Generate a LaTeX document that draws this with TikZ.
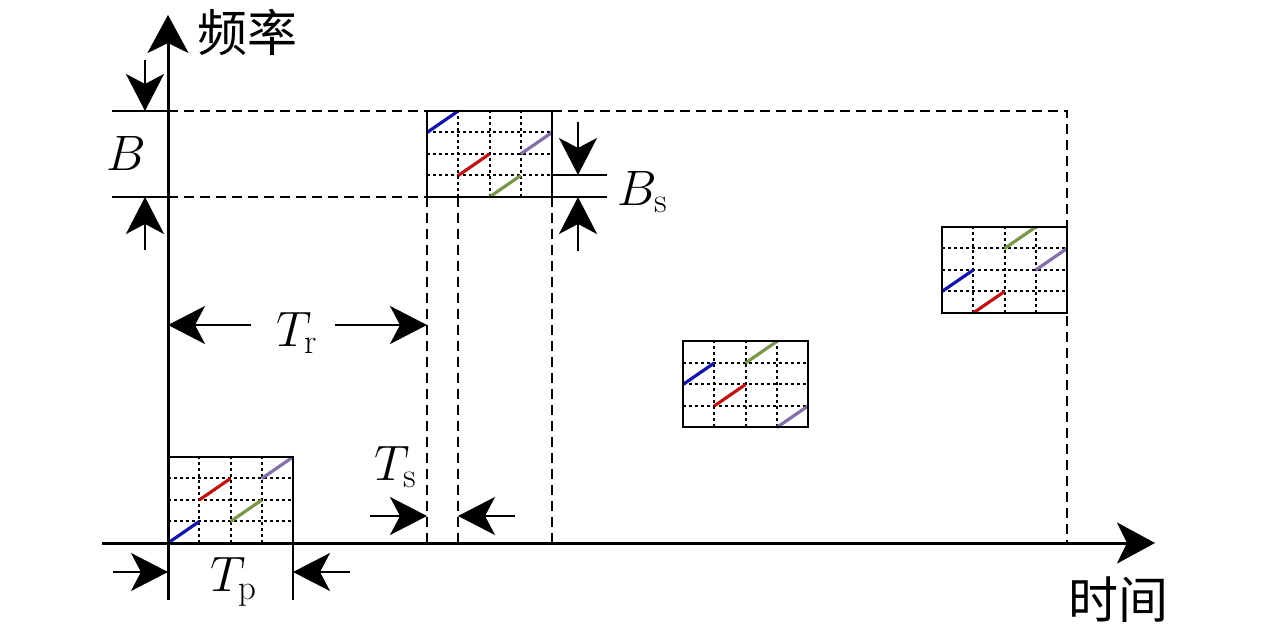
\documentclass[tikz,border=0pt]{standalone}
\usepackage{amsmath}
\usepackage{fontspec}
\newfontfamily\cjk{Noto Sans CJK SC}
\usetikzlibrary{arrows.meta,calc}

\definecolor{tfblue}{RGB}{20,20,170}
\definecolor{tfred}{RGB}{190,20,20}
\definecolor{tfgreen}{RGB}{122,150,72}
\definecolor{tfpurple}{RGB}{132,112,168}

\tikzset{
  axis/.style={line width=1.5pt,-{Stealth[length=19pt,width=20.5pt,inset=5pt]}},
  dim/.style={line width=1pt,-{Stealth[length=18.5pt,width=19pt,inset=5pt]}},
  tick/.style={line width=1pt},
  guide/.style={line width=0.8pt,dash pattern=on 5pt off 3pt},
  tfbox/.style={draw,line width=1pt,minimum width=62.5pt,minimum height=43pt,inner sep=0pt,outer sep=0pt},
  gridline/.style={line width=1pt,dash pattern=on 1.5pt off 1.5pt},
  chirp/.style={line width=1.6pt},
  lab/.style={font=\fontsize{25}{30}\selectfont,inner sep=0pt},
}

% grid of one burst: box name, then the row of each colour
\newcommand{\tfgrid}[5]{%
  \foreach \k in {1,2,3} {
    \draw[gridline] ($(#1.south west)!\k/4!(#1.south east)$) -- ($(#1.north west)!\k/4!(#1.north east)$);
    \draw[gridline] ($(#1.south west)!\k/4!(#1.north west)$) -- ($(#1.south east)!\k/4!(#1.north east)$);
  }
  \foreach \c/\r/\col in {0/#2/tfblue,1/#3/tfred,2/#4/tfgreen,3/#5/tfpurple}
    \draw[chirp,\col] ($(#1.south west)+(\c*31.25,-\r*21.5)$) -- ++(31.25,-21.5);
}

\begin{document}
\begin{tikzpicture}[x=0.5pt,y=-0.5pt]
\useasboundingbox (0,0) rectangle (1280,630);

% bursts
\node (b1) at (230.5,500) [tfbox] {};
\node (b2) at (489.5,154) [tfbox] {};
\node (b3) at (745.5,384.5) [tfbox] {};
\node (b4) at (1004.5,270) [tfbox] {};

% guide lines
\draw [guide] (168,111) -- (b2.north west);
\draw [guide] (b2.north east) -- (1067,111) -- (1067,543);
\draw [guide] (168,197) -- (b2.south west);
\draw [guide] (b2.south west) -- (427,543);
\draw [guide] (458,197) -- (458,543);
\draw [guide] (b2.south east) -- (552,543);

\tfgrid{b1}{0}{2}{1}{3}
\tfgrid{b2}{3}{1}{0}{2}
\tfgrid{b3}{2}{1}{3}{0}
\tfgrid{b4}{1}{0}{3}{2}
\foreach \b in {b1,b2,b3,b4}
  \draw [line width=1pt] (\b.south west) rectangle (\b.north east);

% axes
\coordinate (o1) at (168,600);
\coordinate (o2) at (168,15);
\coordinate (o3) at (102,543);
\coordinate (o4) at (1155,543);
\draw [axis] (o1) -- (o2);
\draw [axis] (o3) -- (o4);
\node (fy) at (247,32) [lab] {\cjk 频率};
\node (fx) at (1118,600) [lab] {\cjk 时间};

% B
\draw [tick] (112,111) -- (168,111);
\draw [tick] (112,197) -- (168,197);
\coordinate (B1) at (145,60);
\coordinate (B2) at (145,111);
\coordinate (B3) at (145,250);
\coordinate (B4) at (145,197);
\draw [dim] (B1) -- (B2);
\draw [dim] (B3) -- (B4);
\node (B) at (126,154) [lab] {$B$};

% Bs
\coordinate (bs0) at (552,175);
\coordinate (bs1) at (607,175);
\coordinate (bs2) at (607,197);
\draw [tick] (bs0) -- (bs1);
\draw [tick] (b2.south east) -- (bs2);
\coordinate (Bs1) at (578,122);
\coordinate (Bs2) at (578,175);
\coordinate (Bs3) at (578,251);
\coordinate (Bs4) at (578,197);
\draw [dim] (Bs1) -- (Bs2);
\draw [dim] (Bs3) -- (Bs4);
\node (Bs) at (643,192) [lab] {$B_{\mathrm{s}}$};

% Tr
\coordinate (Tr1) at (251,325);
\coordinate (Tr2) at (168,325);
\coordinate (Tr3) at (335,325);
\coordinate (Tr4) at (427,325);
\draw [dim] (Tr1) -- (Tr2);
\draw [dim] (Tr3) -- (Tr4);
\node (Tr) at (297,333) [lab] {$T_{\mathrm{r}}$};

% Ts
\coordinate (Ts1) at (370,516);
\coordinate (Ts2) at (427,516);
\coordinate (Ts3) at (515,516);
\coordinate (Ts4) at (458,516);
\draw [dim] (Ts1) -- (Ts2);
\draw [dim] (Ts3) -- (Ts4);
\node (Ts) at (396,467) [lab] {$T_{\mathrm{s}}$};

% Tp
\coordinate (tp0) at (293,600);
\draw [tick] (b1.south east) -- (tp0);
\coordinate (Tp1) at (113,572);
\coordinate (Tp2) at (168,572);
\coordinate (Tp3) at (350,572);
\coordinate (Tp4) at (293,572);
\draw [dim] (Tp1) -- (Tp2);
\draw [dim] (Tp3) -- (Tp4);
\node (Tp) at (234,582) [lab] {$T_{\mathrm{p}}$};
\end{tikzpicture}
\end{document}
